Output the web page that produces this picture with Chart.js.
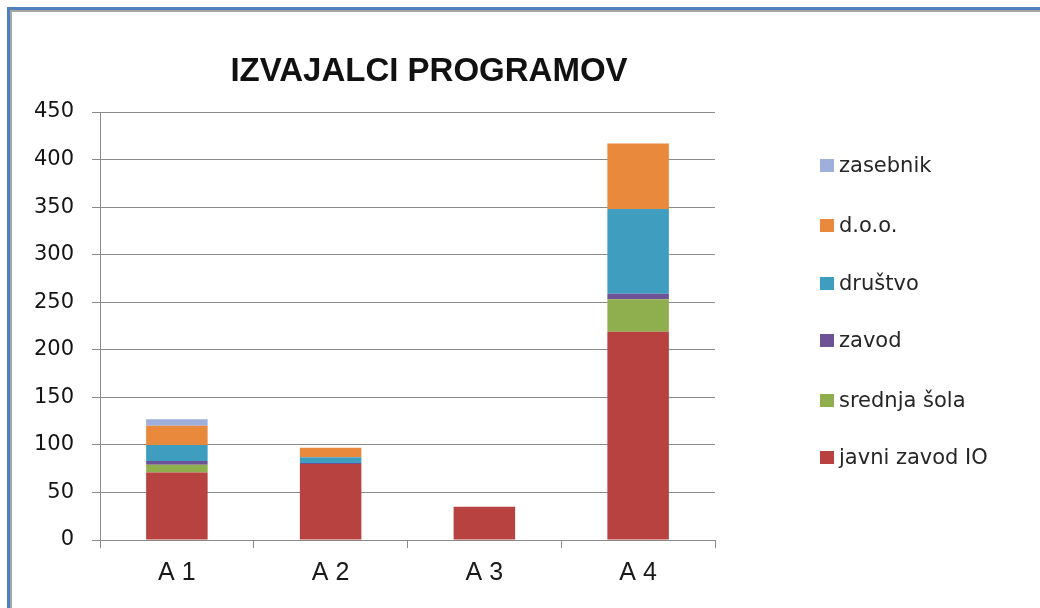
<!DOCTYPE html>
<html>
<head>
<meta charset="utf-8">
<script src="https://cdn.jsdelivr.net/npm/chart.js@4.4.1/dist/chart.umd.min.js"></script>
<style>
  html, body { margin: 0; padding: 0; background: #fff; }
  #wrap { position: relative; width: 1040px; height: 608px; overflow: hidden; background: #fff; }
  #c { position: absolute; left: 0; top: 0; }
  #frameBlue { position: absolute; left: 7px; top: 7px; width: 1100px; height: 700px; border-left: 3px solid #4F81BD; border-top: 3px solid #4F81BD; }
  #frameGray { position: absolute; left: 10px; top: 10px; width: 1100px; height: 700px; border-left: 2px solid #a6a6a6; border-top: 2px solid #a6a6a6; }
  #legend { position: absolute; left: 820px; top: 0; font-family: "DejaVu Sans", sans-serif; font-size: 21px; color: #262626; }
  .item { position: absolute; left: 0; white-space: nowrap; height: 24px; line-height: 24px; }
  .box { position: absolute; left: 0; top: 6px; width: 14px; height: 13px; }
  .txt { position: absolute; left: 19px; top: 0; }
</style>
</head>
<body>
<div id="wrap">
  <canvas id="c" width="1040" height="608"></canvas>
  <div id="frameBlue"></div>
  <div id="frameGray"></div>
  <div id="legend"></div>
</div>
<script>
const chartTitle = "IZVAJALCI PROGRAMOV";
const categories = ["A 1", "A 2", "A 3", "A 4"];
const seriesNames = ["javni zavod IO", "srednja šola", "zavod", "društvo", "d.o.o.", "zasebnik"];
const javniZavodIO = [71, 80, 35, 219];
const srednjaSola  = [8, 0, 0, 34];
const zavod        = [4, 1, 0, 6];
const drustvo      = [17, 6, 0, 89];
const doo          = [20, 10, 0, 69];
const zasebnik     = [7, 0, 0, 0];
const yTicks = [0, 50, 100, 150, 200, 250, 300, 350, 400, 450];

const seriesValues = [javniZavodIO, srednjaSola, zavod, drustvo, doo, zasebnik];
const colors = ["#B8423F", "#8FAF4F", "#6E5296", "#3F9EC0", "#E9893C", "#9FAFDC"];

const titlePlugin = {
  id: 'customTitle',
  afterDraw(chart) {
    const ctx = chart.ctx;
    ctx.save();
    ctx.font = "bold 33px 'Liberation Sans', Arial, sans-serif";
    ctx.fillStyle = "#111";
    ctx.textAlign = "center";
    ctx.textBaseline = "middle";
    ctx.fillText(chartTitle, 429, 72);
    ctx.restore();
  }
};

new Chart(document.getElementById('c'), {
  type: 'bar',
  data: {
    labels: categories,
    datasets: seriesNames.map((n, i) => ({
      label: n,
      data: seriesValues[i],
      backgroundColor: colors[i],
      borderWidth: 0,
      categoryPercentage: 1.0,
      barPercentage: 0.4
    }))
  },
  options: {
    responsive: false,
    animation: false,
    events: [],
    layout: { padding: { left: 0, right: 325, top: 112, bottom: 0 } },
    plugins: { legend: { display: false }, title: { display: false }, tooltip: { enabled: false } },
    scales: {
      x: {
        stacked: true,
        afterFit(s) { s.height = 68; },
        grid: { display: true, drawOnChartArea: false, drawTicks: true, tickLength: 8, offset: true, color: "#8a8a8a" },
        border: { color: "#8a8a8a", width: 1 },
        ticks: { color: "#1a1a1a", padding: 10, font: { family: "'Liberation Sans', Arial, sans-serif", size: 25 } }
      },
      y: {
        stacked: true,
        min: 0, max: 450,
        afterFit(s) { s.width = 100; },
        afterBuildTicks(s) { s.ticks = yTicks.map(v => ({ value: v })); },
        grid: { color: "#8a8a8a", tickLength: 8, drawTicks: true },
        border: { color: "#8a8a8a", width: 1 },
        ticks: { color: "#141414", padding: 18, font: { family: "'DejaVu Sans', sans-serif", size: 21 } }
      }
    }
  },
  plugins: [titlePlugin]
});

// legend (reversed order, like the reference)
const legendTops = [165, 225, 283, 340, 400, 457];
const leg = document.getElementById('legend');
const order = seriesNames.map((n, i) => i).reverse();
order.forEach((idx, k) => {
  const it = document.createElement('div');
  it.className = 'item';
  it.style.top = (legendTops[k] - 12) + 'px';
  const b = document.createElement('div');
  b.className = 'box';
  b.style.background = colors[idx];
  const t = document.createElement('span');
  t.className = 'txt';
  t.textContent = seriesNames[idx];
  it.appendChild(b); it.appendChild(t);
  leg.appendChild(it);
});
</script>
</body>
</html>
